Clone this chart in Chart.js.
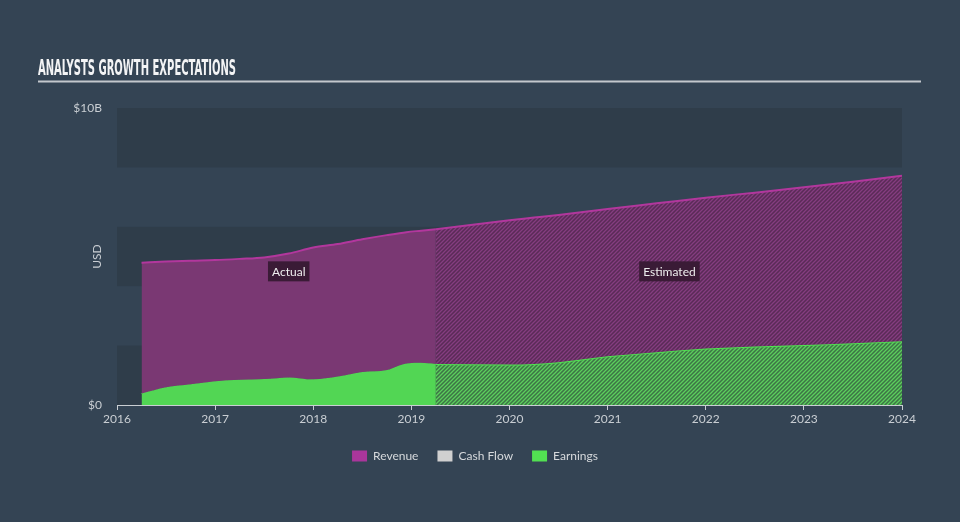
<!DOCTYPE html>
<html>
<head>
<meta charset="utf-8">
<script src="https://cdn.jsdelivr.net/npm/chart.js@4.4.1/dist/chart.umd.min.js"></script>
<style>
  html, body { margin: 0; padding: 0; background: #344454; }
  #wrap { width: 960px; height: 522px; }
</style>
</head>
<body>
<div id="wrap"><canvas id="myChart" width="960" height="522"></canvas></div>
<script>
// values in billions of USD, x = fractional year
let actualYears    = [2016.25, 2016.5, 2016.75, 2017.0, 2017.25, 2017.5, 2017.75, 2018.0, 2018.25, 2018.5, 2018.75, 2018.95, 2019.1, 2019.25];
let actualRevenue  = [4.79, 4.83, 4.86, 4.88, 4.92, 4.97, 5.10, 5.30, 5.42, 5.58, 5.72, 5.82, 5.87, 5.92];
let actualEarnings = [0.39, 0.60, 0.70, 0.80, 0.85, 0.875, 0.93, 0.865, 0.96, 1.11, 1.18, 1.40, 1.42, 1.38];

let estYears    = [2019.25, 2020.0, 2020.25, 2020.5, 2020.75, 2021.0, 2021.5, 2022.0, 2022.5, 2023.0, 2023.5, 2024.0];
let estRevenue  = [5.92, 6.22, 6.31, 6.40, 6.50, 6.60, 6.79, 6.98, 7.15, 7.33, 7.52, 7.72];
let estEarnings = [1.38, 1.36, 1.38, 1.44, 1.54, 1.64, 1.78, 1.90, 1.97, 2.02, 2.08, 2.15];

let yearTicks = [2016, 2017, 2018, 2019, 2020, 2021, 2022, 2023, 2024];
let yTickLabels = { 0: '$0', 10: '$10B' };

let canvas = document.getElementById('myChart');
let ctx0 = canvas.getContext('2d');

// diagonal hatch for the estimated part
function makeHatch(bg, stripe) {
    let c = document.createElement('canvas');
    c.width = 4; c.height = 4;
    let g = c.getContext('2d');
    g.fillStyle = bg;
    g.fillRect(0, 0, 4, 4);
    g.strokeStyle = stripe;
    g.lineWidth = 1.3;
    g.beginPath();
    g.moveTo(0, 4); g.lineTo(4, 0);
    g.moveTo(-1, 1); g.lineTo(1, -1);
    g.moveTo(3, 5); g.lineTo(5, 3);
    g.stroke();
    return ctx0.createPattern(c, 'repeat');
}

function pts(xs, ys) {
    return xs.map((x, i) => ({ x: x, y: ys[i] }));
}

const pageTitle = {
    id: 'pageTitle',
    beforeDraw(chart) {
        let ctx = chart.ctx;
        let txt = 'ANALYSTS GROWTH EXPECTATIONS';
        ctx.save();
        ctx.font = 'bold 21px "Liberation Sans Narrow", "DejaVu Sans Condensed", sans-serif';
        let w = ctx.measureText(txt).width;
        ctx.translate(38, 74.5);
        ctx.scale(198 / w, 1);
        ctx.fillStyle = '#f3f4f5';
        ctx.textBaseline = 'alphabetic';
        ctx.fillText(txt, 0, 0);
        ctx.restore();

        ctx.save();
        ctx.strokeStyle = '#c3c8cd';
        ctx.lineWidth = 2;
        ctx.beginPath();
        ctx.moveTo(38, 81.5);
        ctx.lineTo(921, 81.5);
        ctx.stroke();
        ctx.restore();

        // alternating bands behind the plot
        let a = chart.chartArea;
        let y = chart.scales.y;
        ctx.save();
        ctx.fillStyle = '#2f3d4a';
        [0, 4, 8].forEach(v => {
            let top = y.getPixelForValue(v + 2);
            let bot = y.getPixelForValue(v);
            ctx.fillRect(a.left, top, a.right - a.left, bot - top);
        });
        ctx.restore();
    }
};

const periodLabels = {
    id: 'periodLabels',
    afterDatasetsDraw(chart) {
        let ctx = chart.ctx;
        let xs = chart.scales.x, ys = chart.scales.y;
        let boxes = [
            { text: 'Actual', x: 2017.75, y: 4.5 },
            { text: 'Estimated', x: 2021.63, y: 4.5 }
        ];
        ctx.save();
        ctx.font = '12px Lato, sans-serif';
        ctx.textAlign = 'center';
        ctx.textBaseline = 'middle';
        boxes.forEach(b => {
            let cx = xs.getPixelForValue(b.x);
            let cy = ys.getPixelForValue(b.y);
            let w = ctx.measureText(b.text).width + 8;
            ctx.fillStyle = '#3a1b36';
            ctx.fillRect(cx - w / 2, cy - 10, w, 20);
            ctx.fillStyle = '#eeeeee';
            ctx.fillText(b.text, cx, cy + 1);
        });
        ctx.restore();
    }
};

let data = {
    datasets: [
        {
            label: 'Revenue',
            data: pts(actualYears, actualRevenue),
            borderColor: '#b2379d',
            backgroundColor: '#7a3873',
            borderWidth: 2,
            fill: 2,
            legendColor: '#a9369b'
        },
        {
            label: 'Cash Flow',
            data: [],
            borderColor: '#d0d0d0',
            backgroundColor: '#d0d0d0',
            legendColor: '#d0d0d0'
        },
        {
            label: 'Earnings',
            data: pts(actualYears, actualEarnings),
            borderColor: '#52d654',
            backgroundColor: '#52d654',
            borderWidth: 1,
            fill: 'origin',
            legendColor: '#52e052'
        },
        {
            label: 'Revenue est',
            data: pts(estYears, estRevenue),
            borderColor: '#b2379d',
            backgroundColor: makeHatch('#5a2b57', '#853d80'),
            borderWidth: 2,
            fill: 4,
            hideInLegend: true
        },
        {
            label: 'Earnings est',
            data: pts(estYears, estEarnings),
            borderColor: '#4fe250',
            backgroundColor: makeHatch('#3d7446', '#5ccf5d'),
            borderWidth: 2,
            fill: 'origin',
            hideInLegend: true
        }
    ]
};

let config = {
    type: 'line',
    data: data,
    plugins: [pageTitle, periodLabels],
    options: {
        responsive: false,
        animation: false,
        layout: { padding: { top: 108, left: 48, right: 58, bottom: 50 } },
        elements: {
            point: { radius: 0 },
            line: { tension: 0.4, cubicInterpolationMode: 'monotone' }
        },
        scales: {
            x: {
                type: 'linear',
                min: 2016,
                max: 2024,
                afterFit(scale) { scale.height = 26; },
                afterBuildTicks(scale) { scale.ticks = yearTicks.map(v => ({ value: v })); },
                ticks: {
                    color: '#c9ced3',
                    font: { family: 'Lato', size: 12 },
                    padding: 2,
                    maxRotation: 0,
                    callback: v => String(v)
                },
                grid: { drawOnChartArea: false, drawTicks: true, tickLength: 5, color: '#c9ced3' },
                border: { display: true, color: '#c9ced3', width: 1 }
            },
            y: {
                min: 0,
                max: 10,
                afterFit(scale) { scale.width = 69; },
                ticks: {
                    stepSize: 2,
                    color: '#c9ced3',
                    font: { family: 'Lato', size: 12 },
                    padding: 15,
                    callback: v => (yTickLabels[v] !== undefined ? yTickLabels[v] : '')
                },
                grid: { display: false, drawTicks: false },
                border: { display: false },
                title: {
                    display: true,
                    text: 'USD',
                    color: '#c9ced3',
                    font: { family: 'Lato', size: 12 },
                    padding: { top: 42, bottom: 0 }
                }
            }
        },
        plugins: {
            tooltip: { enabled: false },
            legend: {
                position: 'bottom',
                labels: {
                    color: '#d6d9dc',
                    font: { family: 'Lato', size: 12 },
                    boxWidth: 15,
                    boxHeight: 11,
                    padding: 19,
                    filter: (item, d) => !d.datasets[item.datasetIndex].hideInLegend,
                    generateLabels(chart) {
                        let items = Chart.defaults.plugins.legend.labels.generateLabels(chart);
                        return items.map(it => {
                            let ds = chart.data.datasets[it.datasetIndex];
                            it.fillStyle = ds.legendColor || it.fillStyle;
                            it.strokeStyle = ds.legendColor || it.strokeStyle;
                            it.lineWidth = 0;
                            return it;
                        });
                    }
                }
            }
        }
    }
};

let chart = new Chart(canvas, config);
</script>
</body>
</html>
